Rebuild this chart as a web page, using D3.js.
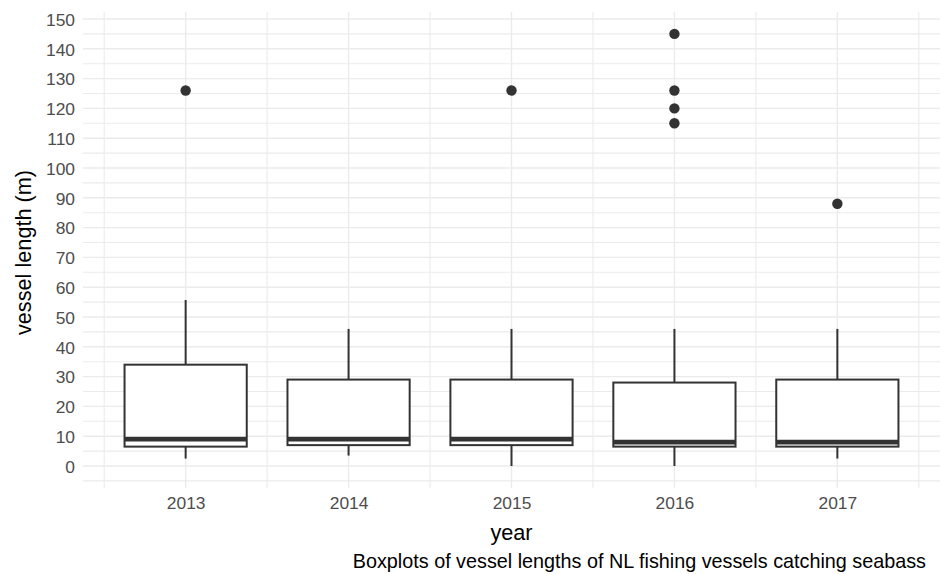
<!DOCTYPE html>
<html><head><meta charset="utf-8">
<script src="https://cdn.jsdelivr.net/npm/d3@7"></script>
<style>
html,body{margin:0;padding:0;background:#fff;}
svg{display:block;font-family:"Liberation Sans",Arial,sans-serif;}
</style></head>
<body>
<svg id="chart" width="941" height="574"></svg>
<script>
const years = ["2013","2014","2015","2016","2017"];
const whiskerLow  = [2.5, 3.5, 0, 0, 2.5];
const q1          = [6.5, 7, 7, 6.5, 6.5];
const median      = [9, 9, 9, 8, 8];
const q3          = [34, 29, 29, 28, 29];
const whiskerHigh = [55.7, 46, 46, 46, 46];
const outliers    = [[126], [], [126], [145, 126, 120, 115], [88]];
const yTicks = d3.range(0, 151, 10);
const yMinor = d3.range(-5, 151, 10);
const xLabel = "year";
const yLabel = "vessel length (m)";
const caption = "Boxplots of vessel lengths of NL fishing vessels catching seabass";

const svg = d3.select("#chart");
const pLeft = 83, pRight = 940, pTop = 12, pBottom = 488;
const x = d3.scaleLinear().domain([1 - 0.63, 5 + 0.63]).range([pLeft, pRight]);
const y = d3.scaleLinear().domain([0, 150]).range([466, 19]);
const grid = "#ebebeb";

// gridlines
const g = svg.append("g");
g.selectAll(".hmin").data(yMinor).join("line")
  .attr("x1", pLeft).attr("x2", pRight).attr("y1", d => y(d)).attr("y2", d => y(d))
  .attr("stroke", grid).attr("stroke-width", 1.1);
g.selectAll(".hmaj").data(yTicks).join("line")
  .attr("x1", pLeft).attr("x2", pRight).attr("y1", d => y(d)).attr("y2", d => y(d))
  .attr("stroke", grid).attr("stroke-width", 1.4);
const vpos = d3.range(0.5, 5.6, 0.5);
g.selectAll(".v").data(vpos).join("line")
  .attr("x1", d => x(d)).attr("x2", d => x(d)).attr("y1", pTop).attr("y2", pBottom)
  .attr("stroke", grid).attr("stroke-width", d => Number.isInteger(d) ? 1.4 : 1.1);

// y axis labels
const yAxis = d3.axisLeft(y).tickValues(yTicks).tickSize(0).tickPadding(0);
const ya = svg.append("g").attr("transform", "translate(75,0)").call(yAxis);
ya.select(".domain").remove();
ya.selectAll("text").attr("font-size", 17.4).attr("fill", "#4d4d4d")
  .attr("font-family", "Liberation Sans, Arial, sans-serif").attr("dy", "0.36em");

// x axis labels
const xAxis = d3.axisBottom(x).tickValues([1,2,3,4,5]).tickFormat((d,i) => years[i]).tickSize(0).tickPadding(0);
const xa = svg.append("g").attr("transform", "translate(0,497)").call(xAxis);
xa.select(".domain").remove();
xa.selectAll("text").attr("font-size", 17.4).attr("fill", "#4d4d4d")
  .attr("font-family", "Liberation Sans, Arial, sans-serif").attr("dy", "0.71em");

// boxes
const bw = 0.75;
const dark = "#333333";
years.forEach((yr, i) => {
  const c = i + 1;
  const bg = svg.append("g");
  bg.append("line").attr("x1", x(c)).attr("x2", x(c)).attr("y1", y(q3[i])).attr("y2", y(whiskerHigh[i]))
    .attr("stroke", dark).attr("stroke-width", 2);
  bg.append("line").attr("x1", x(c)).attr("x2", x(c)).attr("y1", y(q1[i])).attr("y2", y(whiskerLow[i]))
    .attr("stroke", dark).attr("stroke-width", 2);
  bg.append("rect").attr("x", x(c - bw/2)).attr("width", x(c + bw/2) - x(c - bw/2))
    .attr("y", y(q3[i])).attr("height", y(q1[i]) - y(q3[i]))
    .attr("fill", "#fff").attr("stroke", dark).attr("stroke-width", 2);
  bg.append("line").attr("x1", x(c - bw/2)).attr("x2", x(c + bw/2)).attr("y1", y(median[i])).attr("y2", y(median[i]))
    .attr("stroke", dark).attr("stroke-width", 4.8);
  bg.selectAll("circle").data(outliers[i]).join("circle")
    .attr("cx", x(c)).attr("cy", d => y(d)).attr("r", 5.2).attr("fill", dark);
});

// titles
svg.append("text").attr("x", x(3)).attr("y", 540).attr("text-anchor", "middle")
  .attr("font-size", 21.7).attr("fill", "#000").text(xLabel);
svg.append("text").attr("transform", `translate(31,${252.5}) rotate(-90)`).attr("text-anchor", "middle")
  .attr("font-size", 21.7).attr("fill", "#000").text(yLabel);
svg.append("text").attr("x", 926).attr("y", 568).attr("text-anchor", "end")
  .attr("font-size", 19.8).attr("fill", "#000").text(caption);
</script>
</body></html>
